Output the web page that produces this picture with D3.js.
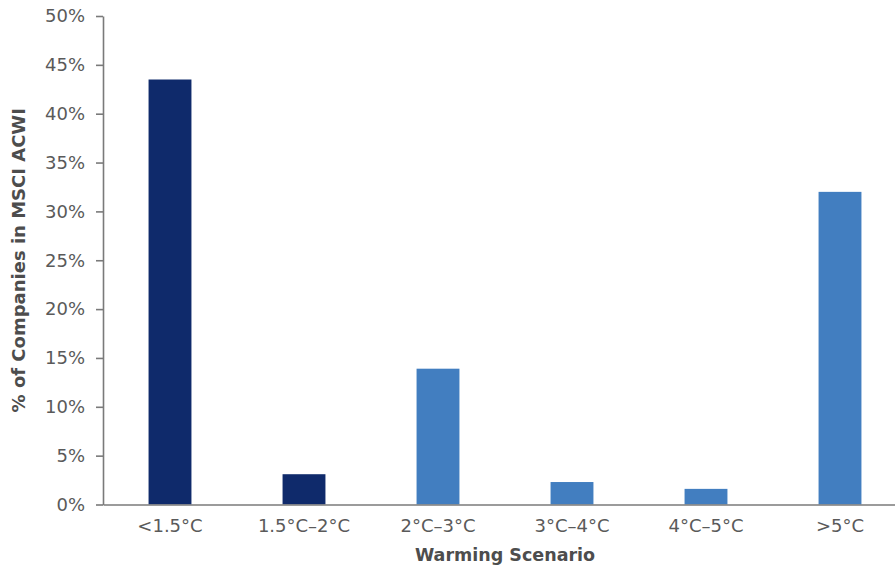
<!DOCTYPE html>
<html>
<head>
<meta charset="utf-8">
<script src="https://cdn.jsdelivr.net/npm/d3@7"></script>
<style>
  html, body { margin: 0; padding: 0; background: #fff; }
  svg { display: block; font-family: "DejaVu Sans", sans-serif; }
</style>
</head>
<body>
<svg id="chart" width="895" height="567"></svg>
<script>
// Share of companies by implied warming scenario
const categories = ["<1.5°C", "1.5°C–2°C", "2°C–3°C", "3°C–4°C", "4°C–5°C", ">5°C"];
const values = [43.5, 3.1, 13.9, 2.3, 1.6, 32.0];
const barColors = ["#0f2a6b", "#0f2a6b", "#427ec0", "#427ec0", "#427ec0", "#427ec0"];
const yTicks = [0, 5, 10, 15, 20, 25, 30, 35, 40, 45, 50];

const svg = d3.select("#chart");
const margin = { left: 103, top: 16, bottom: 504.5 };
const plotRight = 907;

const x = d3.scaleBand()
  .domain(categories)
  .range([margin.left, plotRight])
  .paddingInner(0.68)
  .paddingOuter(0.34);

const y = d3.scaleLinear()
  .domain([0, 50])
  .range([margin.bottom, margin.top]);

const axisColor = "#7a7a7a";
const textColor = "#5a5a5a";
const fontFamily = "'DejaVu Sans', sans-serif";

// bars
svg.append("g")
  .selectAll("rect")
  .data(values)
  .join("rect")
  .attr("x", (d, i) => x(categories[i]))
  .attr("y", d => y(d))
  .attr("width", x.bandwidth())
  .attr("height", d => y(0) - y(d))
  .attr("fill", (d, i) => barColors[i]);

// y axis
const yAxis = svg.append("g")
  .attr("transform", `translate(${margin.left},0)`)
  .call(d3.axisLeft(y).tickValues(yTicks).tickFormat(d => d + "%").tickSize(7).tickSizeOuter(0));
yAxis.select(".domain").attr("stroke", axisColor).attr("stroke-width", 1.6);
yAxis.selectAll(".tick line").attr("stroke", axisColor).attr("stroke-width", 1.6);
yAxis.selectAll(".tick text")
  .attr("x", -18)
  .attr("fill", textColor)
  .style("font-size", "18px")
  .style("font-family", fontFamily);

// x axis
const xAxis = svg.append("g")
  .attr("transform", `translate(0,${margin.bottom})`)
  .call(d3.axisBottom(x).tickSize(0).tickSizeOuter(0));
xAxis.select(".domain").attr("stroke", axisColor).attr("stroke-width", 1.6);
xAxis.selectAll(".tick text")
  .attr("y", 15)
  .attr("fill", textColor)
  .style("font-size", "18px")
  .style("font-family", fontFamily);

// axis titles
svg.append("text")
  .attr("x", (margin.left + plotRight) / 2)
  .attr("y", 561)
  .attr("text-anchor", "middle")
  .attr("fill", "#4d4d4d")
  .style("font-family", fontFamily)
  .style("font-size", "17.5px")
  .style("font-weight", "bold")
  .text("Warming Scenario");

svg.append("text")
  .attr("transform", `translate(25,${(margin.top + margin.bottom) / 2}) rotate(-90)`)
  .attr("text-anchor", "middle")
  .attr("fill", "#4d4d4d")
  .style("font-family", fontFamily)
  .style("font-size", "18px")
  .style("font-weight", "bold")
  .text("% of Companies in MSCI ACWI");
</script>
</body>
</html>
